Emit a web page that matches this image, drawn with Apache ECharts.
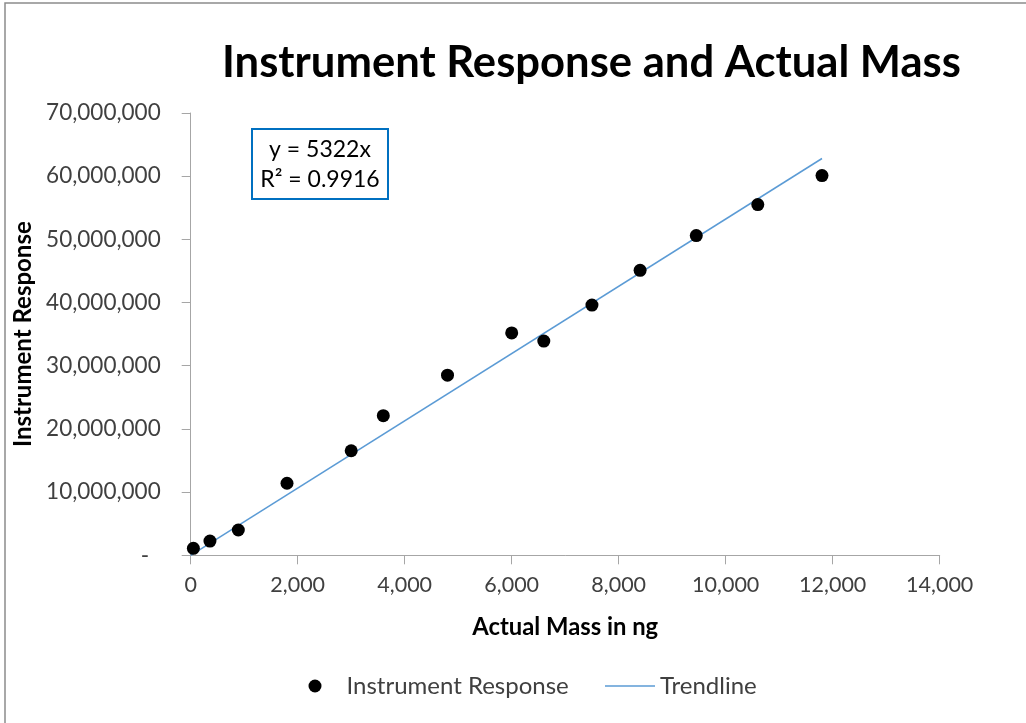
<!DOCTYPE html>
<html>
<head>
<meta charset="utf-8">
<script src="https://cdn.jsdelivr.net/npm/echarts@6/dist/echarts.min.js"></script>
<style>
html,body{margin:0;padding:0;background:#fff;}
#chart{width:1026px;height:723px;}
</style>
</head>
<body>
<div id="chart"></div>
<script>
// Data
var massNg = [50, 360, 890, 1800, 3000, 3600, 4800, 6000, 6600, 7500, 8400, 9450, 10600, 11800];
var response = [1100000, 2250000, 4000000, 11400000, 16550000, 22100000, 28500000, 35200000, 33900000, 39600000, 45100000, 50600000, 55500000, 60100000];
var trendX = [0, 11800];
var trendY = [0, 62800000];
var xTicks = [0, 2000, 4000, 6000, 8000, 10000, 12000, 14000];
var yTicks = [0, 10000000, 20000000, 30000000, 40000000, 50000000, 60000000, 70000000];
var equationLines = ['y = 5322x', 'R\u00B2 = 0.9916'];

var FONT = 'Lato';
function fmt(v){ return v.toString().replace(/\B(?=(\d{3})+(?!\d))/g, ','); }

var chart = echarts.init(document.getElementById('chart'), null, {renderer:'canvas'});
var option = {
  backgroundColor: '#fff',
  animation: false,
  title: {
    text: 'Instrument Response and Actual Mass',
    left: 217, top: 36,
    textStyle: {fontFamily: FONT, fontWeight: 'bold', fontSize: 43.6, color: '#000'}
  },
  grid: {left: 190.7, right: 86.3, top: 113, bottom: 167.7, containLabel: false},
  xAxis: {
    type: 'value', min: xTicks[0], max: xTicks[xTicks.length-1], interval: xTicks[1]-xTicks[0],
    name: 'Actual Mass in ng', nameLocation: 'middle', nameGap: 60,
    nameTextStyle: {fontFamily: FONT, fontWeight: 'bold', fontSize: 23.8, color: '#000'},
    axisLine: {lineStyle: {color: '#a6a6a6', width: 1}},
    axisTick: {show: true, length: 9, lineStyle: {color: '#a6a6a6'}},
    axisLabel: {fontFamily: FONT, fontSize: 21.5, color: '#404040', margin: 19, formatter: fmt},
    splitLine: {show: false}
  },
  yAxis: {
    type: 'value', min: yTicks[0], max: yTicks[yTicks.length-1], interval: yTicks[1]-yTicks[0],
    name: 'Instrument Response', nameLocation: 'middle', nameGap: 151, nameRotate: 90,
    nameTextStyle: {fontFamily: FONT, fontWeight: 'bold', fontSize: 24, color: '#000'},
    axisLine: {show: true, lineStyle: {color: '#a6a6a6', width: 1}},
    axisTick: {show: true, length: 9, lineStyle: {color: '#a6a6a6'}},
    axisLabel: {fontFamily: FONT, fontSize: 22.5, color: '#404040', margin: 30,
      formatter: function(v){ return v === 0 ? '-  ' : fmt(v); }},
    splitLine: {show: false}
  },
  legend: [
    {data: [{name: 'Instrument Response', icon: 'circle'}], left: 308.5, top: 674, padding: 0,
     itemWidth: 13, itemHeight: 13,
     textStyle: {fontFamily: FONT, fontSize: 24, color: '#404040', padding: [0, 0, 0, 20]}},
    {data: [{name: 'Trendline', icon: 'rect'}], left: 605, top: 674, padding: 0,
     itemWidth: 50, itemHeight: 1.5,
     textStyle: {fontFamily: FONT, fontSize: 24, color: '#404040'}}
  ],
  series: [
    {name: 'Instrument Response', type: 'scatter', symbol: 'circle', symbolSize: 13,
     itemStyle: {color: '#000', opacity: 1}, z: 3,
     data: massNg.map(function(x, i){ return [x, response[i]]; })},
    {name: 'Trendline', type: 'line', symbol: 'none', showSymbol: false,
     lineStyle: {color: '#5b9bd5', width: 1.5}, itemStyle: {color: '#5b9bd5'}, z: 2,
     data: trendX.map(function(x, i){ return [x, trendY[i]]; })}
  ],
  graphic: [
    {type: 'rect', shape: {x: 5, y: 3, width: 1100, height: 800},
     style: {fill: 'none', stroke: '#8c8c8c', lineWidth: 1.5}, silent: true, z: -1},
    {type: 'rect', shape: {x: 252, y: 129, width: 136, height: 70},
     style: {fill: '#fff', stroke: '#0070c0', lineWidth: 2}, z: 10},
    {type: 'text', x: 320, y: 135, z: 11,
     style: {text: equationLines.join('\n'), fontFamily: FONT, fontSize: 23, lineHeight: 30,
       fill: '#000', align: 'center', verticalAlign: 'top'}}
  ]
};
chart.setOption(option);
</script>
</body>
</html>
